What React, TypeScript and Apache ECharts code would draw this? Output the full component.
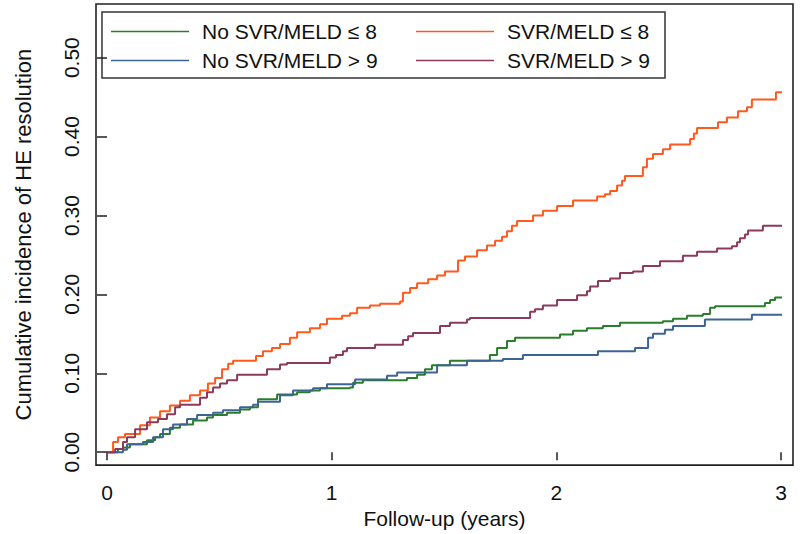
import React, { useEffect, useRef } from "react";
import * as echarts from "echarts";

// Step-function data: time (years) at which the curve jumps, and new cumulative incidence
const noSvrLowT = [0, 0.049, 0.071, 0.102, 0.178, 0.214, 0.236, 0.28, 0.325, 0.383, 0.445, 0.472, 0.534, 0.592, 0.636, 0.672, 0.757, 0.846, 0.903, 0.948, 1.081, 1.095, 1.139, 1.335, 1.38, 1.415, 1.446, 1.526, 1.704, 1.736, 1.78, 1.816, 2.016, 2.074, 2.136, 2.207, 2.283, 2.474, 2.519, 2.581, 2.652, 2.684, 2.706, 2.928, 2.951, 2.973, 3.004];
const noSvrLowV = [0, 0.004, 0.006, 0.01, 0.015, 0.019, 0.023, 0.031, 0.035, 0.04, 0.044, 0.047, 0.05, 0.054, 0.057, 0.067, 0.073, 0.076, 0.078, 0.081, 0.082, 0.088, 0.091, 0.094, 0.098, 0.105, 0.11, 0.116, 0.123, 0.132, 0.141, 0.145, 0.149, 0.154, 0.157, 0.16, 0.164, 0.166, 0.169, 0.173, 0.175, 0.183, 0.185, 0.189, 0.193, 0.196, 0.196];

const noSvrHighT = [0, 0.071, 0.089, 0.16, 0.205, 0.249, 0.294, 0.356, 0.401, 0.472, 0.516, 0.592, 0.65, 0.672, 0.77, 0.828, 0.917, 0.979, 1.104, 1.246, 1.291, 1.469, 1.602, 1.762, 1.851, 2.185, 2.35, 2.408, 2.43, 2.483, 2.519, 2.661, 2.87, 3.004];
const noSvrHighV = [0, 0.003, 0.01, 0.013, 0.019, 0.029, 0.035, 0.042, 0.047, 0.05, 0.053, 0.057, 0.06, 0.064, 0.072, 0.078, 0.081, 0.086, 0.092, 0.097, 0.101, 0.11, 0.116, 0.118, 0.123, 0.128, 0.132, 0.145, 0.15, 0.155, 0.16, 0.168, 0.174, 0.174];

const svrLowT = [0, 0.027, 0.049, 0.08, 0.147, 0.191, 0.236, 0.28, 0.325, 0.369, 0.414, 0.449, 0.481, 0.512, 0.539, 0.561, 0.663, 0.694, 0.734, 0.77, 0.814, 0.846, 0.903, 0.948, 0.979, 1.046, 1.081, 1.113, 1.17, 1.215, 1.304, 1.317, 1.349, 1.38, 1.429, 1.469, 1.504, 1.562, 1.593, 1.647, 1.691, 1.727, 1.758, 1.78, 1.802, 1.825, 1.896, 1.94, 2.003, 2.074, 2.181, 2.216, 2.239, 2.27, 2.292, 2.305, 2.385, 2.403, 2.43, 2.474, 2.506, 2.595, 2.612, 2.626, 2.719, 2.759, 2.808, 2.848, 2.87, 2.977, 3.004];
const svrLowV = [0, 0.013, 0.019, 0.023, 0.034, 0.044, 0.052, 0.059, 0.065, 0.072, 0.078, 0.087, 0.094, 0.105, 0.112, 0.116, 0.122, 0.128, 0.132, 0.137, 0.145, 0.152, 0.157, 0.162, 0.169, 0.173, 0.176, 0.183, 0.186, 0.188, 0.191, 0.202, 0.208, 0.214, 0.219, 0.224, 0.229, 0.243, 0.248, 0.256, 0.262, 0.268, 0.273, 0.28, 0.287, 0.293, 0.3, 0.306, 0.312, 0.319, 0.324, 0.327, 0.331, 0.338, 0.344, 0.35, 0.361, 0.372, 0.378, 0.384, 0.39, 0.397, 0.404, 0.411, 0.418, 0.424, 0.432, 0.437, 0.447, 0.456, 0.456];

const svrHighT = [0, 0.036, 0.071, 0.089, 0.125, 0.178, 0.227, 0.267, 0.303, 0.325, 0.414, 0.445, 0.472, 0.503, 0.534, 0.579, 0.712, 0.77, 0.801, 0.992, 1.019, 1.05, 1.068, 1.193, 1.317, 1.34, 1.362, 1.482, 1.526, 1.602, 1.615, 1.883, 1.905, 1.94, 2.003, 2.092, 2.136, 2.15, 2.185, 2.239, 2.283, 2.341, 2.385, 2.461, 2.563, 2.626, 2.715, 2.781, 2.804, 2.817, 2.839, 2.853, 2.919, 3.004];
const svrHighV = [0, 0.004, 0.013, 0.019, 0.029, 0.038, 0.042, 0.048, 0.057, 0.06, 0.069, 0.076, 0.082, 0.087, 0.091, 0.098, 0.105, 0.111, 0.113, 0.12, 0.123, 0.128, 0.132, 0.136, 0.142, 0.147, 0.151, 0.16, 0.164, 0.168, 0.17, 0.178, 0.181, 0.186, 0.193, 0.199, 0.204, 0.21, 0.217, 0.22, 0.227, 0.229, 0.236, 0.242, 0.249, 0.254, 0.258, 0.261, 0.266, 0.271, 0.276, 0.281, 0.287, 0.287];

const seriesNames = ["No SVR/MELD \u2264 8", "No SVR/MELD > 9", "SVR/MELD \u2264 8", "SVR/MELD > 9"];
const yTicks = [0, 0.1, 0.2, 0.3, 0.4, 0.5];
const xTicks = [0, 1, 2, 3];
const xTitle = "Follow-up (years)";
const yTitle = "Cumulative incidence of HE resolution";

const colors = ["#2a7d2a", "#3d6494", "#ff5a1e", "#8c3a5c"];
const FONT = "'Liberation Sans', Arial, sans-serif";

function pairs(t: number[], v: number[]) {
  return t.map((x, i) => [x, v[i]]);
}

export default function App() {
  const ref = useRef<HTMLDivElement>(null);
  useEffect(() => {
    if (!ref.current) return;
    const chart = echarts.init(ref.current, null, { renderer: "svg" });
    const data = [
      pairs(noSvrLowT, noSvrLowV),
      pairs(noSvrHighT, noSvrHighV),
      pairs(svrLowT, svrLowV),
      pairs(svrHighT, svrHighV),
    ];
    const legendItem = (i: number) => ({
      name: seriesNames[i],
      icon: "rect",
      itemStyle: { color: colors[i], borderWidth: 0 },
    });
    const legendCommon = {
      orient: "vertical" as const,
      padding: 0,
      itemWidth: 78,
      itemHeight: 1.4,
      itemGap: 8,
      textStyle: { fontFamily: FONT, fontSize: 21, color: "#111", padding: [0, 0, 0, 8], height: 21, lineHeight: 21 },
      selectedMode: false,
    };
    chart.setOption({
      animation: false,
      backgroundColor: "#fff",
      grid: {
        left: 96,
        top: 4,
        width: 697,
        height: 464,
        show: true,
        borderColor: "#222",
        borderWidth: 1.6,
        containLabel: false,
      },
      legend: [
        { ...legendCommon, left: 111, top: 21, data: [legendItem(0), legendItem(1)] },
        { ...legendCommon, left: 416, top: 21, data: [legendItem(2), legendItem(3)] },
      ],
      graphic: [
        {
          type: "rect",
          shape: { x: 102, y: 12, width: 563, height: 66 },
          style: { fill: "#fff", stroke: "#333", lineWidth: 1.5 },
          z: 0,
          silent: true,
        },
      ],
      xAxis: {
        type: "value",
        min: -0.049,
        max: 3.053,
        name: xTitle,
        nameLocation: "middle",
        nameGap: 36,
        nameTextStyle: { fontFamily: FONT, fontSize: 21, color: "#111" },
        axisLine: { show: false },
        axisTick: { show: true, length: 8, customValues: xTicks, lineStyle: { color: "#222", width: 1.5 } },
        axisLabel: { customValues: xTicks, margin: 17, fontFamily: FONT, fontSize: 21, color: "#111" },
        splitLine: { show: false },
      },
      yAxis: {
        type: "value",
        min: -0.0164,
        max: 0.568,
        name: yTitle,
        nameLocation: "middle",
        nameGap: 62,
        nameTextStyle: { fontFamily: FONT, fontSize: 22, color: "#111" },
        axisLine: { show: false },
        axisTick: { show: true, length: 10, customValues: yTicks, lineStyle: { color: "#222", width: 1.5 } },
        axisLabel: {
          customValues: yTicks,
          rotate: 90,
          margin: 14,
          fontFamily: FONT,
          fontSize: 21,
          color: "#111",
          formatter: (v: number) => v.toFixed(2),
        },
        splitLine: { show: false },
      },
      series: data.map((d, i) => ({
        name: seriesNames[i],
        type: "line",
        step: "end",
        data: d,
        symbol: "none",
        color: colors[i],
        itemStyle: { color: colors[i] },
        lineStyle: { color: colors[i], width: 2 },
        z: 3,
      })),
    });
    return () => chart.dispose();
  }, []);
  return (
    <div
      ref={ref}
      style={{ position: "fixed", left: 0, top: 0, width: 800, height: 534, background: "#fff" }}
    />
  );
}
